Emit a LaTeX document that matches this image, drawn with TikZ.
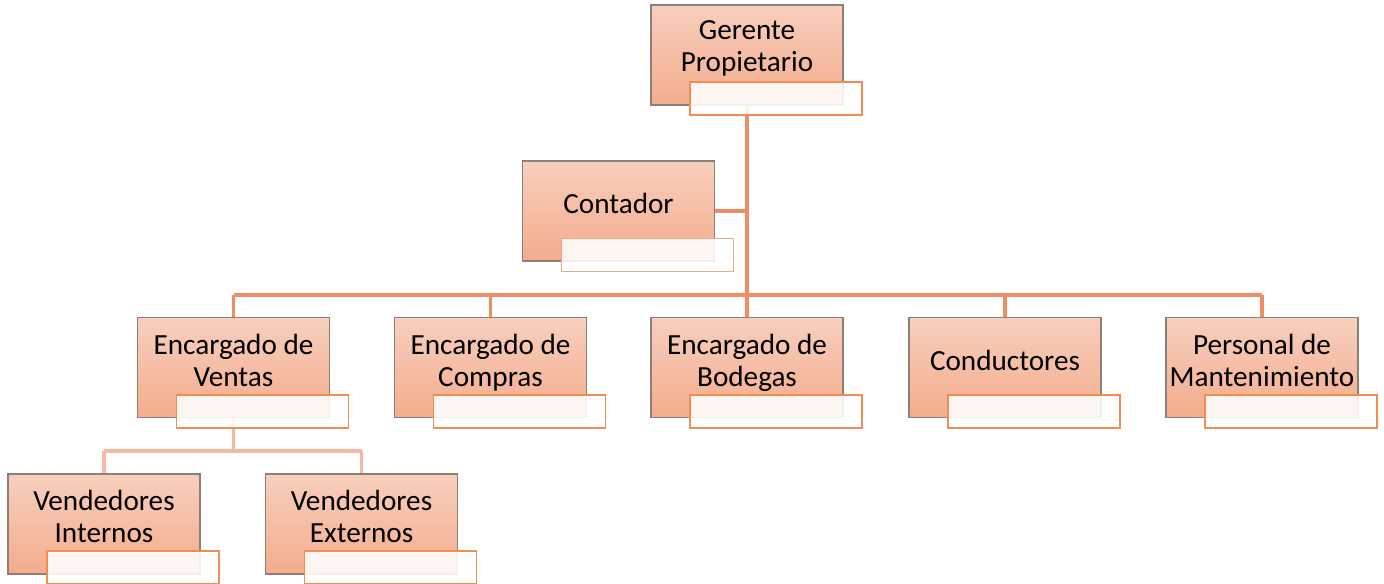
\documentclass[tikz,border=0pt]{standalone}
\usepackage{fontspec}
\setmainfont{Carlito}
\pgfdeclarelayer{bg}
\pgfsetlayers{bg,main}
\definecolor{boxtop}{HTML}{F7CFBE}
\definecolor{boxbot}{HTML}{F4AC8C}
\definecolor{boxedge}{HTML}{8C7F7A}
\definecolor{ovledge}{HTML}{F08E52}
\definecolor{ovlsoft}{HTML}{F4A883}
\definecolor{linkmain}{HTML}{F08D62}
\definecolor{linksub}{HTML}{F5B89E}
\begin{document}
\begin{tikzpicture}[x=0.75pt,y=-0.75pt,
  orgbox/.style={rectangle,draw=boxedge,line width=0.9pt,top color=boxtop,bottom color=boxbot,
    minimum width=144pt,minimum height=75pt,inner sep=0pt,outer sep=0pt},
  lbl/.style={align=center,inner sep=0pt,text depth=4.6pt,font=\fontsize{21.9}{24}\selectfont},
  ovl/.style={rectangle,draw=ovledge,line width=0.9pt,fill=white,fill opacity=0.88,
    minimum width=129pt,minimum height=24.75pt,inner sep=0pt,outer sep=0pt},
  link/.style={draw=linkmain,line width=2.4pt},
  sublink/.style={draw=linksub,line width=2.4pt}]
\useasboundingbox (0,0) rectangle (1384,584);
\clip (0,0) rectangle (1384,584);

% boxes
\node[orgbox] (g) at (747,55) {};
\node[orgbox] (c) at (618.5,211) {};
\node[orgbox] (v) at (233.5,367.5) {};
\node[orgbox] (co) at (490.5,367.5) {};
\node[orgbox] (b) at (747,367.5) {};
\node[orgbox] (cd) at (1005,367.5) {};
\node[orgbox] (p) at (1262,367.5) {};
\node[orgbox] (vi) at (104,524) {};
\node[orgbox] (ve) at (361.5,524) {};

% texts
\node[lbl] (gt) at (747,49.5) {Gerente\\Propietario};
\node[lbl] (ct) at (618.5,206.5) {Contador};
\node[lbl] (vt) at (233.5,363) {Encargado de\\Ventas};
\node[lbl] (cot) at (490.5,363) {Encargado de\\Compras};
\node[lbl] (bt) at (747,363) {Encargado de\\Bodegas};
\node[lbl] (cdt) at (1005,363) {Conductores};
\node[lbl] (pt) at (1262,363) {Personal de\\Mantenimiento};
\node[lbl] (vit) at (104,519) {Vendedores\\Internos};
\node[lbl] (vet) at (361.5,519) {Vendedores\\Externos};

% overlays
\node[ovl] (go) at (776,98.5) {};
\node[ovl,draw=ovlsoft] (cov) at (647.5,255) {};
\node[ovl] (vo) at (262.5,411.5) {};
\node[ovl] (coo) at (519.5,411.5) {};
\node[ovl] (bo) at (776,411.5) {};
\node[ovl] (cdo) at (1034,411.5) {};
\node[ovl] (po) at (1291,411.5) {};
\node[ovl] (vio) at (133,567.5) {};
\node[ovl] (veo) at (390.5,567.5) {};

% bus coordinates
\coordinate (bus) at (747,295);
\coordinate (subbus) at (233.5,451);

\begin{pgfonlayer}{bg}
\draw[link] (g.center) -- (bus);
\draw[link] (c.east) -- (c.east -| g.center);
\draw[link] (v.center |- bus) -- (p.center |- bus);
\draw[link] (v.center |- bus) -- (v.center);
\draw[link] (co.center |- bus) -- (co.center);
\draw[link] (b.center |- bus) -- (b.center);
\draw[link] (cd.center |- bus) -- (cd.center);
\draw[link] (p.center |- bus) -- (p.center);
\draw[sublink] (v.center) -- (subbus);
\draw[sublink] (vi.center |- subbus) -- (ve.center |- subbus);
\draw[sublink] (vi.center |- subbus) -- (vi.center);
\draw[sublink] (ve.center |- subbus) -- (ve.center);
\end{pgfonlayer}
\end{tikzpicture}
\end{document}
